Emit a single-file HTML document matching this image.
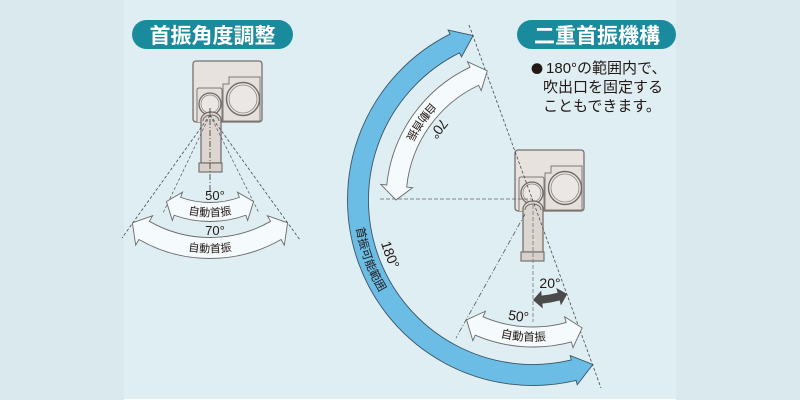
<!DOCTYPE html>
<html><head><meta charset="utf-8">
<style>
html,body{margin:0;padding:0;width:800px;height:400px;overflow:hidden;background:#dae9ee;}
svg{display:block}
text{font-family:"Liberation Sans","Noto Sans CJK JP",sans-serif;fill:#231815;}
.cjk{font-family:"Noto Sans CJK JP","Liberation Sans",sans-serif;}
</style></head><body>
<svg width="800" height="400" viewBox="0 0 800 400" xmlns="http://www.w3.org/2000/svg">
<defs>
 <g id="dev">
  <rect x="193" y="61" width="69" height="61" rx="3" fill="#e7e2de" stroke="#77716d" stroke-width="1.3"/>
  <path d="M223,121 V84 H229 V77 H260 V121 Z" fill="#e5e0dc" stroke="#807a76" stroke-width="1"/>
  <circle cx="243" cy="99" r="16.5" fill="#ebe7e4" stroke="#6f6a67" stroke-width="1.4"/>
  <circle cx="243" cy="99" r="14" fill="none" stroke="#8a8480" stroke-width="0.8"/>
  <path d="M197,122 V90 Q197,88 199,88 H220 Q222,88 222,90 V122" fill="#e5e0dc" stroke="#807a76" stroke-width="1"/>
  <circle cx="210" cy="104" r="11" fill="#ebe7e4" stroke="#6f6a67" stroke-width="1.3"/>
  <circle cx="210" cy="104" r="9" fill="none" stroke="#8a8480" stroke-width="0.7"/>
  <path d="M201,120 A10,8 0 0 1 221,120 V163 H201 Z" fill="#ddd5d0" stroke="#6f6a67" stroke-width="1.2"/>
  <path d="M203,121 A8,6 0 0 1 219,121" fill="none" stroke="#6f6a67" stroke-width="1"/>
  <rect x="199" y="163" width="23" height="9" fill="#d8d0cb" stroke="#6f6a67" stroke-width="1.1"/>
 </g>
 <path id="tL70"/><path id="tL50"/><path id="tUpW"/><path id="tUp70"/>
 <path id="tLowW"/><path id="tLow50"/><path id="tBlue"/><path id="t180"/>
</defs>

<rect x="0" y="0" width="800" height="400" fill="#dae9ee"/>
<rect x="124" y="0" width="552" height="400" fill="#deeef3"/>
<rect x="124" y="399" width="552" height="1" fill="#ffffff"/>

<!-- Titles -->
<rect x="132" y="20" width="161" height="29" rx="14.5" fill="#1a8b9c"/>
<text x="212.5" y="43" font-size="21" font-weight="700" text-anchor="middle" style="fill:#fff" class="cjk">首振角度調整</text>
<rect x="517" y="20" width="159" height="29" rx="14.5" fill="#1a8b9c"/>
<text x="597" y="43" font-size="21" font-weight="700" text-anchor="middle" style="fill:#fff" class="cjk">二重首振機構</text>

<text x="531" y="73" font-size="15"><tspan class="cjk" font-size="12">●</tspan><tspan dx="3">180°の範囲内で、</tspan></text>
<text x="543" y="92" font-size="15">吹出口を固定する</text>
<text x="543" y="111" font-size="15">こともできます。</text>

<!-- Left device -->
<use href="#dev"/>
<g stroke="#4a4a4a" stroke-width="0.8" fill="none">
 <line x1="210" y1="115" x2="122" y2="238" stroke-dasharray="3,2"/>
 <line x1="210" y1="115" x2="300" y2="240" stroke-dasharray="3,2"/>
 <line x1="210" y1="115" x2="163" y2="213" stroke-dasharray="3,2" stroke="#666"/>
 <line x1="210" y1="115" x2="259" y2="213" stroke-dasharray="3,2" stroke="#666"/>
 <line x1="210" y1="108" x2="210" y2="195" stroke-dasharray="6,2,1,2" stroke="#333"/>
</g>
<path id="aL70" fill="#f5fafc" stroke="#6a6a6a" stroke-width="0.9"/>
<path id="aL50" fill="#f5fafc" stroke="#6a6a6a" stroke-width="0.9"/>
<text x="215" y="200" font-size="13" text-anchor="middle">50°</text>
<text x="215" y="235" font-size="13" text-anchor="middle">70°</text>
<text font-size="11" class="cjk"><textPath href="#tL50" startOffset="50%" text-anchor="middle">自動首振</textPath></text>
<text font-size="11" class="cjk"><textPath href="#tL70" startOffset="50%" text-anchor="middle">自動首振</textPath></text>

<!-- Right device -->
<use href="#dev" transform="translate(322,89)"/>
<g stroke="#4a4a4a" stroke-width="0.8" fill="none">
 <line x1="469" y1="25" x2="601" y2="388" stroke-dasharray="3,2"/>
 <line x1="380" y1="199" x2="533" y2="199" stroke-dasharray="4,2" stroke="#666"/>
 <line x1="525" y1="214" x2="456" y2="338" stroke-dasharray="5,2,1,2" stroke="#555"/>
 <line x1="533" y1="205" x2="533" y2="322" stroke-dasharray="4,2" stroke="#777"/>
</g>
<path id="aBlue" fill="#6bbde6" stroke="#3a5666" stroke-width="0.9"/>
<path id="aUp" fill="#f5fafc" stroke="#6a6a6a" stroke-width="0.9"/>
<path id="aLow" fill="#f5fafc" stroke="#6a6a6a" stroke-width="0.9"/>
<path id="aDark" fill="#4b4b4b"/>

<text font-size="11.5" class="cjk"><textPath href="#tBlue" startOffset="50%" text-anchor="middle">首振可能範囲</textPath></text>
<text font-size="14"><textPath href="#t180" startOffset="50%" text-anchor="middle">180°</textPath></text>
<text font-size="11" class="cjk"><textPath href="#tUpW" startOffset="50%" text-anchor="middle">自動首振</textPath></text>
<text font-size="14"><textPath href="#tUp70" startOffset="50%" text-anchor="middle">70°</textPath></text>
<text font-size="11.5" class="cjk"><textPath href="#tLowW" startOffset="50%" text-anchor="middle">自動首振</textPath></text>
<text font-size="14"><textPath href="#tLow50" startOffset="50%" text-anchor="middle">50°</textPath></text>
<text x="550" y="288" font-size="14" text-anchor="middle">20°</text>

<script>
(function(){
 var R=Math.PI/180;
 function P(cx,cy,r,a){return (cx+r*Math.cos(a*R)).toFixed(2)+','+(cy+r*Math.sin(a*R)).toFixed(2);}
 function arrow(cx,cy,r,w,a1,a2,hl,hw){
  var d=hl/r/R, s=a1+d, e=a2-d, ro=r+w/2, ri=r-w/2, lg=(e-s)>180?1:0;
  return 'M'+P(cx,cy,ro,s)+' A'+ro+','+ro+' 0 '+lg+' 1 '+P(cx,cy,ro,e)+
   ' L'+P(cx,cy,r+hw,e)+' L'+P(cx,cy,r,a2)+' L'+P(cx,cy,r-hw,e)+' L'+P(cx,cy,ri,e)+
   ' A'+ri+','+ri+' 0 '+lg+' 0 '+P(cx,cy,ri,s)+
   ' L'+P(cx,cy,r-hw,s)+' L'+P(cx,cy,r,a1)+' L'+P(cx,cy,r+hw,s)+' Z';
 }
 function tarc(cx,cy,r,a1,a2){return 'M'+P(cx,cy,r,a1)+' A'+r+','+r+' 0 0 0 '+P(cx,cy,r,a2);}
 function set(id,d){document.getElementById(id).setAttribute('d',d);}
 set('aL70',arrow(210,116,132,21,54,126,14,17));
 set('aL50',arrow(210,116,96,19,63,117,12,15));
 set('aBlue',arrow(533,200,175,21,70,250,20,15));
 set('aUp',arrow(533,200,137,20,180,250.5,14,16));
 set('aLow',arrow(533,200,137,20,69,119,14,16));
 set('aDark',arrow(533,200,100,8,70,90,9,9));
 set('tL70',tarc(210,116,136.5,115,65));
 set('tL50',tarc(210,116,100.5,118,62));
 set('tUpW',tarc(533,200,141,235,195));
 set('tUp70',tarc(533,200,123,237,197));
 set('tLowW',tarc(533,200,141,114,74));
 set('tLow50',tarc(533,200,122,117,77));
 set('tBlue',tarc(533,200,179,180,140));
 set('t180',tarc(533,200,158,179,139));
})();
</script>
</svg>
</body></html>
